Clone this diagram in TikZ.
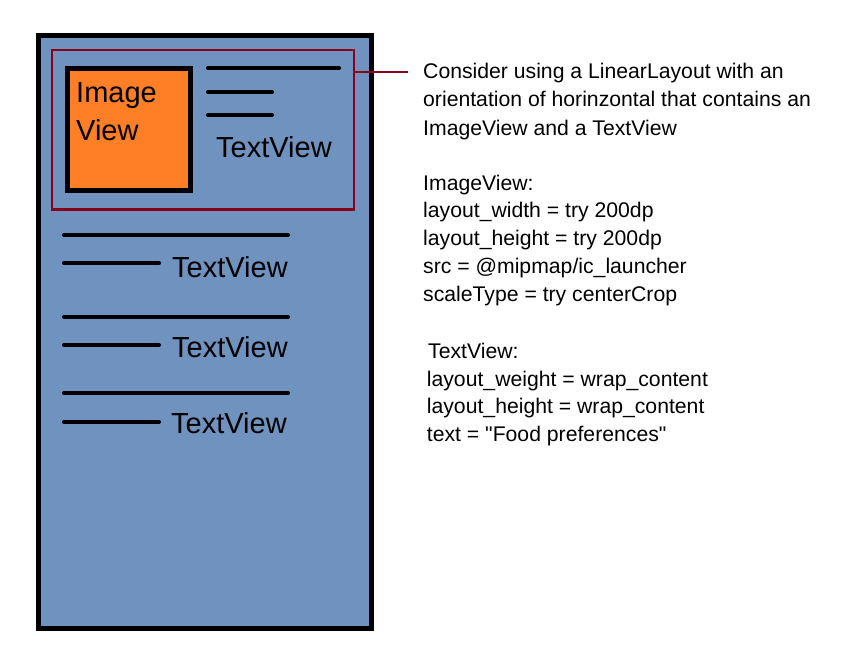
\documentclass[tikz,border=0pt]{standalone}
\usepackage{fontspec}
\setmainfont{Liberation Sans}
\definecolor{phoneblue}{RGB}{112,146,190}
\definecolor{rowred}{RGB}{136,0,21}
\definecolor{imgorange}{RGB}{255,127,39}
\begin{document}
\begin{tikzpicture}[x=1pt,y=-1pt,
  bar/.style={line width=4pt, line cap=round},
  big/.style={font=\fontsize{29}{34}\selectfont, anchor=base west, inner sep=0},
  note/.style={font=\fontsize{21.2}{28}\selectfont, anchor=base west, inner sep=0}]
\useasboundingbox (0,0) rectangle (852,672);
% phone
\node[draw, line width=5pt, fill=phoneblue, minimum width=333pt, minimum height=593.5pt,
      inner sep=0, anchor=north west] (phone) at (35.5,32.5) {};
% horizontal row
\node[draw=rowred, line width=2.7pt, minimum width=302pt, minimum height=159.5pt,
      inner sep=0, anchor=north west] (row) at (50.5,48.5) {};
% image view
\node[draw, line width=5pt, fill=imgorange, minimum width=122.3pt, minimum height=122.4pt,
      inner sep=0, anchor=north west] (img) at (65.2,65.8) {};
\node[big] (imgt1) at (76,102) {Image};
\node[big] (imgt2) at (76,140) {View};
% text lines in row
\draw[bar] (208,68.3) -- (339,68.3);
\draw[bar] (208,92.3) -- (272,92.3);
\draw[bar] (208,115) -- (272,115);
\node[big] (tv0) at (216,157) {TextView};
% lower text views
\draw[bar] (64,235) -- (288,235);
\draw[bar] (64,263.3) -- (159,263.3);
\node[big] (tv1) at (172,277.5) {TextView};
\draw[bar] (64,316.7) -- (288,316.7);
\draw[bar] (64,345) -- (159,345);
\node[big] (tv2) at (172,357) {TextView};
\draw[bar] (64,393.3) -- (288,393.3);
\draw[bar] (64,421.7) -- (159,421.7);
\node[big] (tv3) at (171,433.5) {TextView};
% connector
\coordinate (conn) at (408,72);
\draw[rowred, line width=2.7pt] (conn -| row.east) -- (conn);
% notes
\node[note] (n1) at (423,78.3) {Consider using a LinearLayout with an};
\node[note] (n2) at (423,106.7) {orientation of horinzontal that contains an};
\node[note] (n3) at (423,135) {ImageView and a TextView};
\node[note] (n4) at (423,190) {ImageView:};
\node[note] (n5) at (423,217) {layout\_width = try 200dp};
\node[note] (n6) at (423,245) {layout\_height = try 200dp};
\node[note] (n7) at (423,273.3) {src = @mipmap/ic\_launcher};
\node[note] (n8) at (423,301.7) {scaleType = try centerCrop};
\node[note] (n9) at (428,358.3) {TextView:};
\node[note] (n10) at (426.7,386.7) {layout\_weight = wrap\_content};
\node[note] (n11) at (426.7,413.3) {layout\_height = wrap\_content};
\node[note] (n12) at (426.7,441.7) {text = \textquotedbl Food preferences\textquotedbl};
\end{tikzpicture}
\end{document}
